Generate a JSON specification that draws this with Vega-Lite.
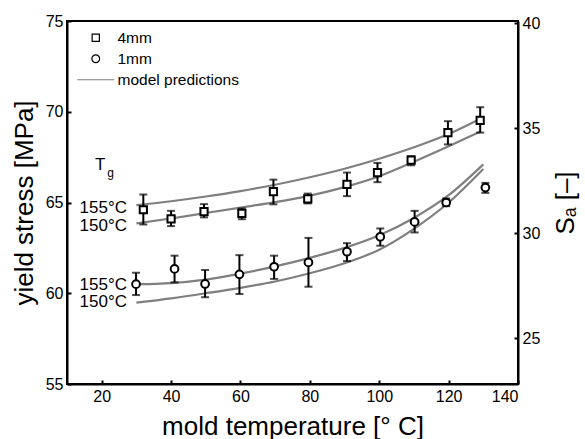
{
  "$schema": "https://vega.github.io/schema/vega-lite/v6.json",
  "width": 451,
  "height": 363,
  "autosize": {"type": "none"},
  "padding": {"left": 67, "top": 21, "right": 67, "bottom": 55},
  "background": "white",
  "config": {
    "font": "Liberation Sans",
    "view": {"stroke": "black", "strokeWidth": 2},
    "axis": {
      "domainColor": "black", "domainWidth": 2, "tickColor": "black", "tickWidth": 2,
      "labelColor": "black", "titleColor": "black", "grid": false,
      "titleFontWeight": "normal", "labelFontSize": 16, "titleFontSize": 26,
      "tickSize": -4, "labelPadding": 8
    },
    "legend": {
      "orient": "none", "legendX": 21, "legendY": 9, "labelFontSize": 15.5,
      "labelColor": "black", "symbolStrokeWidth": 1.2, "rowPadding": 4, "labelOffset": 14
    }
  },
  "datasets": {
    "pts": [
      {"T": 32, "stress": 64.6, "lo": 63.79, "hi": 65.44, "series": "4mm"},
      {"T": 40, "stress": 64.1, "lo": 63.7, "hi": 64.54, "series": "4mm"},
      {"T": 49.5, "stress": 64.5, "lo": 64.18, "hi": 64.91, "series": "4mm"},
      {"T": 60.4, "stress": 64.4, "lo": 64.08, "hi": 64.67, "series": "4mm"},
      {"T": 69.5, "stress": 65.6, "lo": 64.9, "hi": 66.26, "series": "4mm"},
      {"T": 79.4, "stress": 65.2, "lo": 64.95, "hi": 65.49, "series": "4mm"},
      {"T": 90.7, "stress": 66.0, "lo": 65.35, "hi": 66.65, "series": "4mm"},
      {"T": 99.5, "stress": 66.65, "lo": 66.12, "hi": 67.18, "series": "4mm"},
      {"T": 109.2, "stress": 67.33, "lo": 67.05, "hi": 67.55, "series": "4mm"},
      {"T": 119.8, "stress": 68.85, "lo": 68.2, "hi": 69.48, "series": "4mm"},
      {"T": 129.1, "stress": 69.52, "lo": 68.85, "hi": 70.25, "series": "4mm"},
      {"T": 29.9, "stress": 60.5, "lo": 59.9, "hi": 61.13, "series": "1mm"},
      {"T": 41, "stress": 61.34, "lo": 60.6, "hi": 62.07, "series": "1mm"},
      {"T": 49.8, "stress": 60.51, "lo": 59.78, "hi": 61.28, "series": "1mm"},
      {"T": 59.7, "stress": 61.04, "lo": 59.96, "hi": 62.1, "series": "1mm"},
      {"T": 69.7, "stress": 61.46, "lo": 60.79, "hi": 62.07, "series": "1mm"},
      {"T": 79.6, "stress": 61.7, "lo": 60.36, "hi": 63.05, "series": "1mm"},
      {"T": 90.7, "stress": 62.29, "lo": 61.77, "hi": 62.76, "series": "1mm"},
      {"T": 100.3, "stress": 63.11, "lo": 62.62, "hi": 63.57, "series": "1mm"},
      {"T": 110.2, "stress": 63.93, "lo": 63.35, "hi": 64.54, "series": "1mm"},
      {"T": 119.3, "stress": 65.0, "lo": 64.8, "hi": 65.22, "series": "1mm"},
      {"T": 130.6, "stress": 65.82, "lo": 65.53, "hi": 66.08, "series": "1mm"}
    ],
    "curves": [
      {"curve": "4mm155", "T": 30, "stress": 64.85},
      {"curve": "4mm155", "T": 40, "stress": 65.07},
      {"curve": "4mm155", "T": 50, "stress": 65.33},
      {"curve": "4mm155", "T": 60, "stress": 65.63},
      {"curve": "4mm155", "T": 70, "stress": 65.98},
      {"curve": "4mm155", "T": 80, "stress": 66.39},
      {"curve": "4mm155", "T": 90, "stress": 66.86},
      {"curve": "4mm155", "T": 100, "stress": 67.41},
      {"curve": "4mm155", "T": 110, "stress": 68.04},
      {"curve": "4mm155", "T": 120, "stress": 68.77},
      {"curve": "4mm155", "T": 129, "stress": 69.6},
      {"curve": "4mm150", "T": 30, "stress": 63.85},
      {"curve": "4mm150", "T": 40, "stress": 64.12},
      {"curve": "4mm150", "T": 50, "stress": 64.42},
      {"curve": "4mm150", "T": 60, "stress": 64.72},
      {"curve": "4mm150", "T": 70, "stress": 65.02},
      {"curve": "4mm150", "T": 80, "stress": 65.38},
      {"curve": "4mm150", "T": 90, "stress": 65.85},
      {"curve": "4mm150", "T": 100, "stress": 66.45},
      {"curve": "4mm150", "T": 110, "stress": 67.25},
      {"curve": "4mm150", "T": 120, "stress": 68.1},
      {"curve": "4mm150", "T": 129, "stress": 68.9},
      {"curve": "1mm155", "T": 30, "stress": 60.5},
      {"curve": "1mm155", "T": 40, "stress": 60.56},
      {"curve": "1mm155", "T": 50, "stress": 60.75},
      {"curve": "1mm155", "T": 60, "stress": 61.08},
      {"curve": "1mm155", "T": 70, "stress": 61.48},
      {"curve": "1mm155", "T": 80, "stress": 61.95},
      {"curve": "1mm155", "T": 90, "stress": 62.5},
      {"curve": "1mm155", "T": 100, "stress": 63.2},
      {"curve": "1mm155", "T": 110, "stress": 64.15},
      {"curve": "1mm155", "T": 120, "stress": 65.4},
      {"curve": "1mm155", "T": 130, "stress": 67.1},
      {"curve": "1mm150", "T": 30, "stress": 59.48},
      {"curve": "1mm150", "T": 40, "stress": 59.72},
      {"curve": "1mm150", "T": 50, "stress": 60.0},
      {"curve": "1mm150", "T": 60, "stress": 60.3},
      {"curve": "1mm150", "T": 70, "stress": 60.65},
      {"curve": "1mm150", "T": 80, "stress": 61.1},
      {"curve": "1mm150", "T": 90, "stress": 61.65},
      {"curve": "1mm150", "T": 100, "stress": 62.4},
      {"curve": "1mm150", "T": 110, "stress": 63.55},
      {"curve": "1mm150", "T": 120, "stress": 65.0},
      {"curve": "1mm150", "T": 130, "stress": 66.85}
    ],
    "labels": [
      {"T": 27.3, "stress": 64.43, "text": "155°C"},
      {"T": 27.3, "stress": 63.44, "text": "150°C"},
      {"T": 27.3, "stress": 60.18, "text": "155°C"},
      {"T": 27.3, "stress": 59.23, "text": "150°C"},
      {"T": 21.1, "stress": 66.81, "text": "T"}
    ],
    "sub": [
      {"T": 21.6, "stress": 66.39, "text": "g"}
    ],
    "right": [
      {"Sa": 25}, {"Sa": 40}
    ]
  },
  "layer": [
    {
      "layer": [
        {
          "data": {"name": "curves"},
          "mark": {"type": "line", "color": "#7f7f7f", "strokeWidth": 2.2, "interpolate": "monotone"},
          "encoding": {
            "x": {"field": "T", "type": "quantitative", "title": "mold temperature [° C]",
              "scale": {"domain": [10, 140], "nice": false},
              "axis": {"values": [20, 40, 60, 80, 100, 120, 140], "titleY": 50, "titleBaseline": "alphabetic", "labelColor": "black"}},
            "y": {"field": "stress", "type": "quantitative", "title": "yield stress [MPa]",
              "scale": {"domain": [55, 75], "nice": false},
              "axis": {"values": [55, 60, 65, 70, 75], "titleAngle": 270, "titleX": -30, "titleBaseline": "bottom", "labelPadding": 8, "labelColor": "black"}},
            "detail": {"field": "curve"}
          }
        },
        {
          "data": {"name": "pts"},
          "mark": {"type": "errorbar", "color": "black", "ticks": {"size": 8, "thickness": 2, "color": "black"}, "rule": {"strokeWidth": 2, "color": "black"}},
          "encoding": {
            "x": {"field": "T", "type": "quantitative", "title": "mold temperature [° C]"},
            "y": {"field": "lo", "type": "quantitative", "title": "yield stress [MPa]"},
            "y2": {"field": "hi"}
          }
        },
        {
          "data": {"name": "pts"},
          "mark": {"type": "point", "filled": false, "fill": "white", "fillOpacity": 1, "strokeWidth": 2, "opacity": 1},
          "encoding": {
            "x": {"field": "T", "type": "quantitative", "title": "mold temperature [° C]"},
            "y": {"field": "stress", "type": "quantitative", "title": "yield stress [MPa]"},
            "shape": {"field": "series", "type": "nominal", "title": null,
              "scale": {"domain": ["4mm", "1mm", "model predictions"], "range": ["square", "circle", "M-4.5,0H4.5"]}},
            "stroke": {"field": "series", "type": "nominal", "title": null,
              "scale": {"domain": ["4mm", "1mm", "model predictions"], "range": ["black", "black", "#7f7f7f"]}},
            "size": {"field": "series", "type": "nominal", "title": null,
              "scale": {"domain": ["4mm", "1mm", "model predictions"], "range": [52, 68, 50]}}
          }
        },
        {
          "data": {"name": "labels"},
          "mark": {"type": "text", "align": "right", "baseline": "alphabetic", "fontSize": 17, "color": "black"},
          "encoding": {
            "x": {"field": "T", "type": "quantitative", "title": "mold temperature [° C]"},
            "y": {"field": "stress", "type": "quantitative", "title": "yield stress [MPa]"},
            "text": {"field": "text"}
          }
        },
        {
          "data": {"name": "sub"},
          "mark": {"type": "text", "align": "left", "baseline": "alphabetic", "fontSize": 12, "color": "black"},
          "encoding": {
            "x": {"field": "T", "type": "quantitative", "title": "mold temperature [° C]"},
            "y": {"field": "stress", "type": "quantitative", "title": "yield stress [MPa]"},
            "text": {"field": "text"}
          }
        }
      ]
    },
    {
      "data": {"name": "right"},
      "mark": {"type": "point", "opacity": 0},
      "encoding": {
        "y": {"field": "Sa", "type": "quantitative", "title": "Sₐ [–]",
          "scale": {"domain": [22.81, 40.1], "nice": false},
          "axis": {"orient": "right", "values": [25, 30, 35, 40], "titleAngle": 270, "titleX": 60, "titleBaseline": "bottom", "labelPadding": 8, "labelColor": "black"}}
      }
    }
  ],
  "resolve": {"scale": {"y": "independent"}}
}
